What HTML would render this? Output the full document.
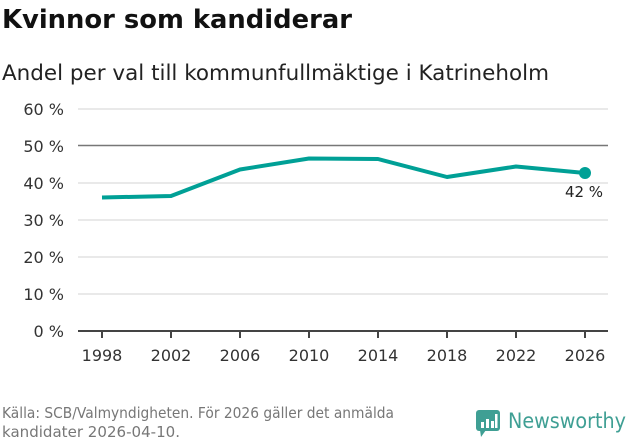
<!DOCTYPE html>
<html><head><meta charset="utf-8"><style>
body{margin:0;width:631px;height:439px;background:#fff;overflow:hidden;font-family:"DejaVu Sans","Liberation Sans",sans-serif;}
</style></head><body>
<svg width="631" height="439" xmlns="http://www.w3.org/2000/svg" font-family="DejaVu Sans, Liberation Sans, sans-serif">
<text x="2" y="28" font-size="26" font-weight="bold" fill="#111" textLength="350" lengthAdjust="spacingAndGlyphs">Kvinnor som kandiderar</text>
<text x="2" y="80" font-size="21.5" fill="#222" textLength="547" lengthAdjust="spacingAndGlyphs">Andel per val till kommunfullmäktige i Katrineholm</text>
<g stroke="#e2e2e2" stroke-width="1.5">
<line x1="78" x2="608" y1="109" y2="109"/>
<line x1="78" x2="608" y1="183" y2="183"/>
<line x1="78" x2="608" y1="220" y2="220"/>
<line x1="78" x2="608" y1="257" y2="257"/>
<line x1="78" x2="608" y1="294" y2="294"/>
</g>
<line x1="78" x2="608" y1="145.5" y2="145.5" stroke="#777" stroke-width="1.5"/>
<line x1="78" x2="608" y1="331" y2="331" stroke="#444" stroke-width="2"/>
<g stroke="#444" stroke-width="2">
<line x1="102" x2="102" y1="331" y2="338"/><line x1="171" x2="171" y1="331" y2="338"/>
<line x1="240" x2="240" y1="331" y2="338"/><line x1="309" x2="309" y1="331" y2="338"/>
<line x1="378" x2="378" y1="331" y2="338"/><line x1="447" x2="447" y1="331" y2="338"/>
<line x1="516" x2="516" y1="331" y2="338"/><line x1="585" x2="585" y1="331" y2="338"/>
</g>
<g font-size="16" fill="#333" text-anchor="end">
<text x="64" y="115">60 %</text><text x="64" y="152">50 %</text><text x="64" y="189">40 %</text>
<text x="64" y="226">30 %</text><text x="64" y="263">20 %</text><text x="64" y="300">10 %</text><text x="64" y="337">0 %</text>
</g>
<g font-size="16" fill="#333" text-anchor="middle">
<text x="102" y="361">1998</text><text x="171" y="361">2002</text><text x="240" y="361">2006</text>
<text x="309" y="361">2010</text><text x="378" y="361">2014</text><text x="447" y="361">2018</text>
<text x="516" y="361">2022</text><text x="585" y="361">2026</text>
</g>
<polyline fill="none" stroke="#00a096" stroke-width="4" stroke-linejoin="round" points="102,197.5 171,196 240,169.5 309,158.5 378,159 447,177 516,166.5 585,173"/>
<circle cx="585" cy="173" r="6" fill="#00a096"/>
<text x="584" y="197" font-size="15" fill="#222" text-anchor="middle">42 %</text>
<text x="2" y="418" font-size="15" fill="#777" textLength="392" lengthAdjust="spacingAndGlyphs">Källa: SCB/Valmyndigheten. För 2026 gäller det anmälda</text>
<text x="2" y="437" font-size="15" fill="#777" textLength="178" lengthAdjust="spacingAndGlyphs">kandidater 2026-04-10.</text>
<g transform="translate(476,410)">
<rect x="0" y="0" width="24" height="21" rx="3" fill="#3f9f94"/>
<polygon points="4,20 10,20 5,27" fill="#3f9f94"/>
<rect x="5" y="12" width="3" height="6" fill="#fff"/><rect x="10" y="9" width="3" height="9" fill="#fff"/><rect x="15" y="11" width="3" height="7" fill="#fff"/><rect x="19" y="4" width="2.5" height="14" fill="#fff"/>
</g>
<text x="508" y="428" font-size="21" fill="#3f9f94" textLength="118" lengthAdjust="spacingAndGlyphs">Newsworthy</text>
</svg>
</body></html>
